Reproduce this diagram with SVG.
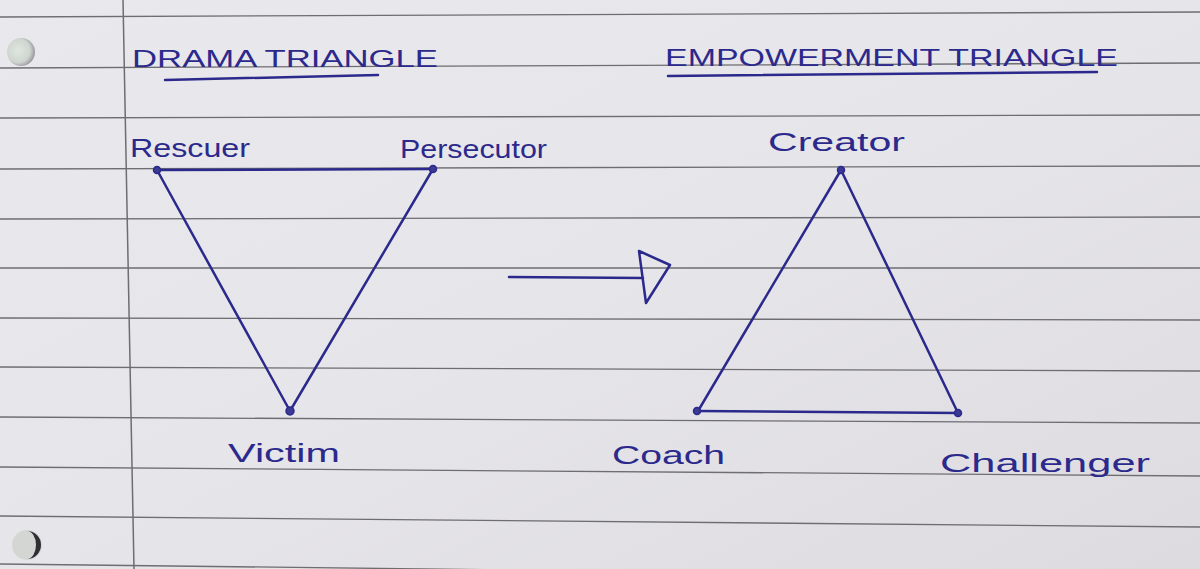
<svg xmlns="http://www.w3.org/2000/svg" width="1200" height="569" viewBox="0 0 1200 569">
<defs>
<linearGradient id="paper" x1="0" y1="0" x2="1" y2="1">
<stop offset="0" stop-color="#e9e8ec"/>
<stop offset="0.5" stop-color="#e6e5e9"/>
<stop offset="1" stop-color="#dddbe0"/>
</linearGradient>
<radialGradient id="hole" cx="0.4" cy="0.45" r="0.6">
<stop offset="0" stop-color="#dfe6e0"/>
<stop offset="0.7" stop-color="#cfd6d0"/>
<stop offset="1" stop-color="#9a9a9e"/>
</radialGradient>
</defs>
<style>
.rule{stroke:#6e6d72;stroke-width:1.3;fill:none}
.ink{stroke:#2b2a8c;stroke-width:2.5;fill:none;stroke-linecap:round;stroke-linejoin:round}
.dot{fill:#3a3a95;stroke:#2b2a8c;stroke-width:1.5}
.t{font-family:"Liberation Sans","DejaVu Sans",sans-serif;fill:#2b2a8c}
.title{font-size:24px}
.lab{font-size:26px}
</style>
<rect width="1200" height="569" fill="url(#paper)"/>
<g id="paper-lines">
<line class="rule" x1="0" y1="17" x2="1200" y2="12"/>
<line class="rule" x1="0" y1="68" x2="1200" y2="63"/>
<line class="rule" x1="0" y1="118" x2="1200" y2="115"/>
<line class="rule" x1="0" y1="169" x2="1200" y2="166"/>
<line class="rule" x1="0" y1="219" x2="1200" y2="217"/>
<line class="rule" x1="0" y1="268" x2="1200" y2="268"/>
<line class="rule" x1="0" y1="318" x2="1200" y2="320"/>
<line class="rule" x1="0" y1="367" x2="1200" y2="371"/>
<line class="rule" x1="0" y1="417" x2="1200" y2="423"/>
<line class="rule" x1="0" y1="467" x2="1200" y2="476"/>
<line class="rule" x1="0" y1="516" x2="1200" y2="527"/>
<line class="rule" x1="0" y1="564" x2="1200" y2="578"/>
<line x1="123" y1="0" x2="134" y2="569" stroke="#6e6d72" stroke-width="1.5"/>
<circle cx="21" cy="52" r="14" fill="url(#hole)"/>
<circle cx="27" cy="545" r="15" fill="#d3d6d3"/>
<path d="M27 531 A14 14 0 0 1 27 559 A9 14 0 0 0 27 531 Z" fill="#2e2e33"/>
</g>
<g id="titles">
<text class="t title" x="132" y="67" textLength="306" lengthAdjust="spacingAndGlyphs">DRAMA TRIANGLE</text>
<path class="ink" d="M165 80 L378 75"/>
<text class="t title" x="665" y="66" textLength="453" lengthAdjust="spacingAndGlyphs">EMPOWERMENT TRIANGLE</text>
<path class="ink" d="M668 76 L1097 72"/>
</g>
<g id="connectors">
<path class="ink" d="M157 170 L433 169"/>
<path class="ink" d="M157 170 L290 411"/>
<path class="ink" d="M433 169 L290 411"/>
<path class="ink" d="M841 170 L698 411"/>
<path class="ink" d="M841 170 L958 413"/>
<path class="ink" d="M698 411 L958 413"/>
<path class="ink" d="M509 277 L643 278"/>
<path class="ink" d="M639 251 L670 265 L646 303 Z"/>
</g>
<g id="rescuer">
<circle class="dot" cx="157" cy="170" r="3.5"/>
<text class="t lab" x="130" y="157" textLength="120" lengthAdjust="spacingAndGlyphs">Rescuer</text>
</g>
<g id="persecutor">
<circle class="dot" cx="433" cy="169" r="3.5"/>
<text class="t lab" x="400" y="158" textLength="147" lengthAdjust="spacingAndGlyphs">Persecutor</text>
</g>
<g id="victim">
<circle class="dot" cx="290" cy="411" r="4"/>
<text class="t lab" x="228" y="462" textLength="112" lengthAdjust="spacingAndGlyphs">Victim</text>
</g>
<g id="creator">
<circle class="dot" cx="841" cy="170" r="3.5"/>
<text class="t lab" x="768" y="151" textLength="137" lengthAdjust="spacingAndGlyphs">Creator</text>
</g>
<g id="coach">
<circle class="dot" cx="697" cy="411" r="3.5"/>
<text class="t lab" x="612" y="464" textLength="113" lengthAdjust="spacingAndGlyphs">Coach</text>
</g>
<g id="challenger">
<circle class="dot" cx="958" cy="413" r="3.5"/>
<text class="t lab" x="940" y="472" textLength="210" lengthAdjust="spacingAndGlyphs">Challenger</text>
</g>
</svg>
